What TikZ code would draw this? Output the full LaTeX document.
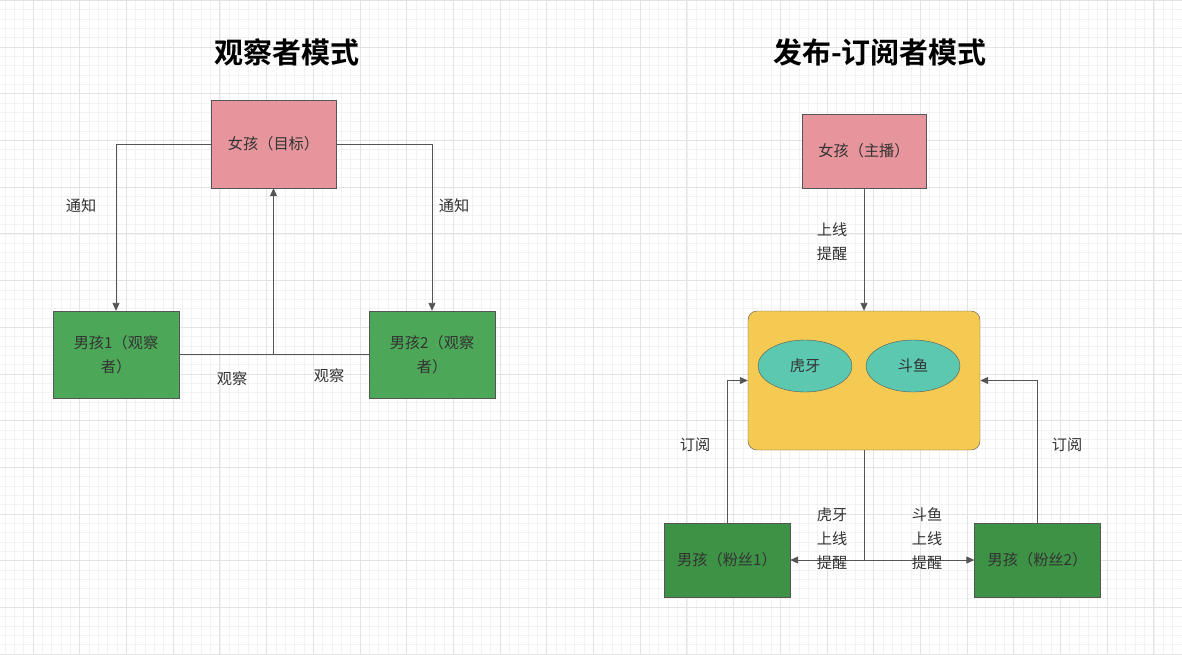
\documentclass[tikz,border=0pt]{standalone}
\usepackage{fontspec}
\setmainfont{Noto Sans CJK SC}[BoldFont={Noto Sans CJK SC Bold}]
\usetikzlibrary{arrows.meta, shapes.geometric}

\definecolor{girlpink}{RGB}{230,149,156}
\definecolor{boygreen}{RGB}{76,168,88}
\definecolor{fangreen}{RGB}{62,146,70}
\definecolor{platyellow}{RGB}{245,202,82}
\definecolor{siteteal}{RGB}{92,200,176}
\definecolor{edgegray}{RGB}{85,85,85}
\definecolor{textgray}{RGB}{51,51,51}

\begin{document}
\begin{tikzpicture}[x=1pt, y=-1pt,
        every node/.style={font=\fontsize{15.2}{24}\selectfont, text=textgray},
        girl/.style={rectangle, draw=edgegray, fill=girlpink, minimum width=125pt, minimum height=88pt, inner sep=0pt, align=center},
        boy/.style={rectangle, draw=edgegray, fill=boygreen, minimum width=126pt, minimum height=87pt, inner sep=0pt, align=center},
        fan/.style={rectangle, draw=edgegray, fill=fangreen, minimum width=126pt, minimum height=74pt, inner sep=0pt, align=center},
        site/.style={ellipse, draw=edgegray, fill=siteteal, minimum width=94pt, minimum height=52pt, inner sep=0pt},
        title/.style={font=\fontsize{29}{34}\selectfont\bfseries, text=black},
        label/.style={align=center, inner sep=0pt},
        link/.style={draw=edgegray, line width=0.9pt},
        arr/.style={link, -{Triangle[length=8pt, width=7pt]}},
        gridminor/.style={draw=black!5, line width=0.6pt},
        gridmajor/.style={draw=black!11, line width=0.8pt}
    ]
        \useasboundingbox[fill=white] (0,0) rectangle (1182,654);

        % Background grid
        \foreach \gi in {0,...,127} \draw[gridminor] ({33+(\gi-4)*9.34},0) -- ++(0,654);
        \foreach \gj in {0,...,75} \draw[gridminor] (0,{47+(\gj-5)*9.34}) -- ++(1182,0);
        \foreach \gi in {0,...,25} \draw[gridmajor] ({33+(\gi-1)*46.7},0) -- ++(0,654);
        \foreach \gj in {0,...,14} \draw[gridmajor] (0,{47+(\gj-1)*46.7}) -- ++(1182,0);

        % Observer pattern
        \node[title] (obstitle) at (287,52) {观察者模式};
        \node[girl] (target) at (273.5,144) {女孩（目标）};
        \node[boy] (boy1) at (116,354.5) {男孩1（观察\\者）};
        \node[boy] (boy2) at (432,354.5) {男孩2（观察\\者）};

        \draw[arr] (target.west) -| (boy1.north);
        \draw[arr] (target.east) -| (boy2.north);
        \coordinate (watch) at (target.south |- boy1.east);
        \draw[arr] (boy1.east) -| (target.south);
        \draw[link] (boy2.west) -- (watch);

        \node[label] (notify1) at (81,206) {通知};
        \node[label] (notify2) at (454,206) {通知};
        \node[label] (watch1) at (232,379) {观察};
        \node[label] (watch2) at (329,376) {观察};

        % Publish-subscribe pattern
        \node[title] (pubtitle) at (880,52) {发布-订阅者模式};
        \node[girl, minimum width=124pt, minimum height=74pt] (host) at (864,151) {女孩（主播）};
        \node[rectangle, rounded corners=9pt, draw=edgegray, fill=platyellow, minimum width=232pt, minimum height=139pt] (platform) at (864,380.5) {};
        \node[site] (huya) at (805,366) {虎牙};
        \node[site] (douyu) at (913,366) {斗鱼};
        \node[fan] (fan1) at (727,560) {男孩（粉丝1）};
        \node[fan] (fan2) at (1037.5,560) {男孩（粉丝2）};

        \draw[arr] (host.south) -- (platform.north);
        \draw[arr] (fan1.north) |- (platform.west);
        \draw[arr] (fan2.north) |- (platform.east);
        \coordinate (push) at (platform.south |- fan1.east);
        \draw[link] (platform.south) -- (push);
        \draw[arr] (push) -- (fan1.east);
        \draw[arr] (push) -- (fan2.west);

        \node[label] (online) at (832,242) {上线\\提醒};
        \node[label] (sub1) at (695,445) {订阅};
        \node[label] (sub2) at (1067,445) {订阅};
        \node[label] (huyaup) at (832,539) {虎牙\\上线\\提醒};
        \node[label] (douyuup) at (927,539) {斗鱼\\上线\\提醒};
    \end{tikzpicture}
\end{document}
